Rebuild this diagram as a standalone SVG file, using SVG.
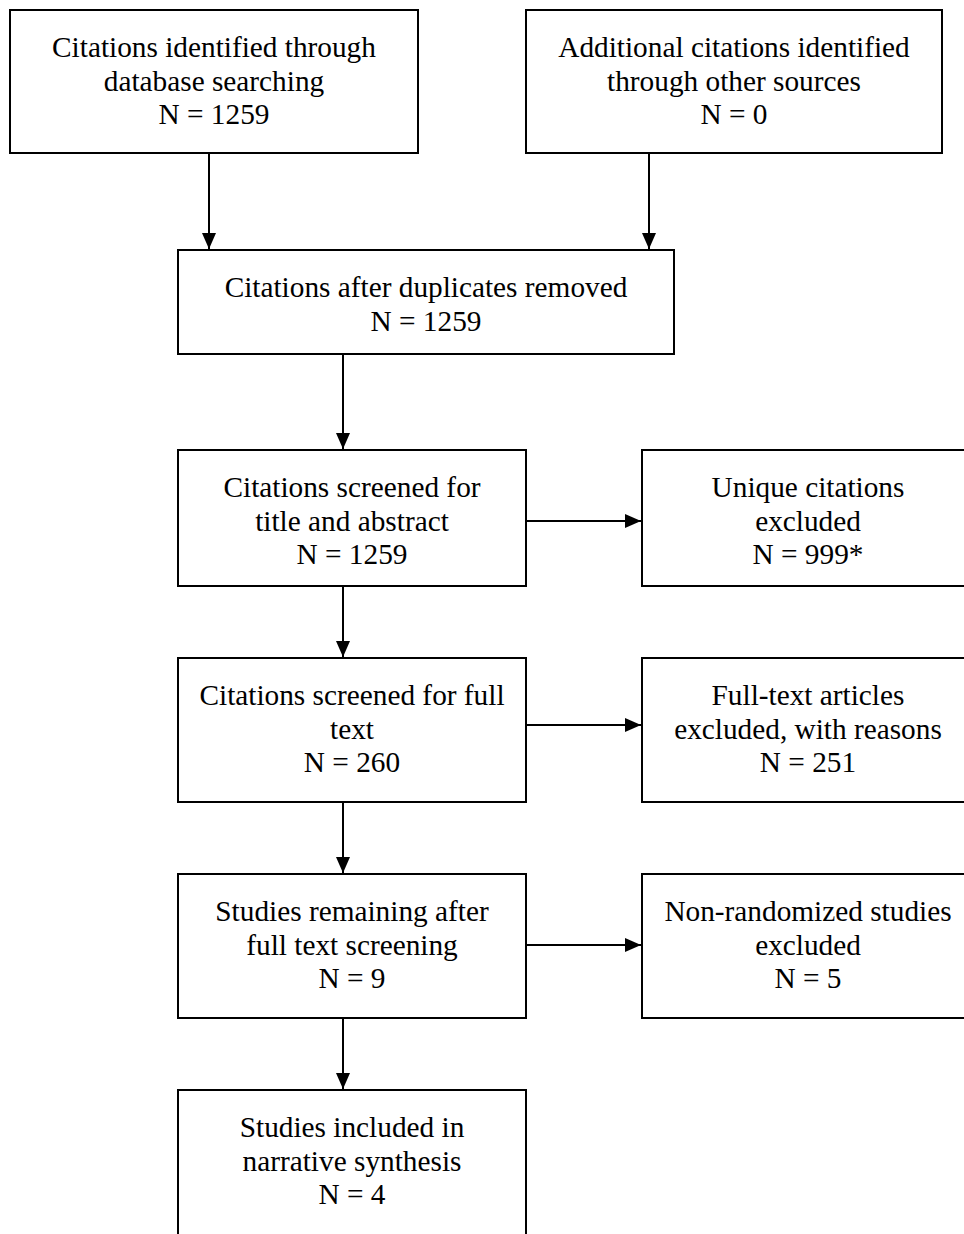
<svg xmlns="http://www.w3.org/2000/svg" width="964" height="1234" viewBox="0 0 964 1234">
<style>
.box{fill:#fff;stroke:#000;stroke-width:2}
.t{font-family:"Liberation Serif","Times New Roman",serif;font-size:29.3px;fill:#000;text-anchor:middle}
.c{stroke:#000;stroke-width:2;fill:none;marker-end:url(#ah)}
</style>
<defs>
<marker id="ah" viewBox="0 0 16 14" refX="16" refY="7" markerWidth="16" markerHeight="14" markerUnits="userSpaceOnUse" orient="auto">
<path d="M0,0 L16,7 L0,14 Z" fill="#000"/>
</marker>
</defs>
<g id="connectors">
<line class="c" x1="209" y1="154" x2="209" y2="249"/>
<line class="c" x1="649" y1="154" x2="649" y2="249"/>
<line class="c" x1="343" y1="355" x2="343" y2="449"/>
<line class="c" x1="343" y1="587" x2="343" y2="657"/>
<line class="c" x1="343" y1="803" x2="343" y2="873"/>
<line class="c" x1="343" y1="1019" x2="343" y2="1089"/>
<line class="c" x1="527" y1="521" x2="641" y2="521"/>
<line class="c" x1="527" y1="725" x2="641" y2="725"/>
<line class="c" x1="527" y1="945" x2="641" y2="945"/>
</g>
<g id="n1">
<rect class="box" x="10" y="10" width="408" height="143"/>
<text class="t" x="214" y="57">Citations identified through</text>
<text class="t" x="214" y="90.5">database searching</text>
<text class="t" x="214" y="124">N = 1259</text>
</g>
<g id="n2">
<rect class="box" x="526" y="10" width="416" height="143"/>
<text class="t" x="734" y="57">Additional citations identified</text>
<text class="t" x="734" y="90.5">through other sources</text>
<text class="t" x="734" y="124">N = 0</text>
</g>
<g id="n3">
<rect class="box" x="178" y="250" width="496" height="104"/>
<text class="t" x="426" y="297">Citations after duplicates removed</text>
<text class="t" x="426" y="330.5">N = 1259</text>
</g>
<g id="n4">
<rect class="box" x="178" y="450" width="348" height="136"/>
<text class="t" x="352" y="497">Citations screened for</text>
<text class="t" x="352" y="530.5">title and abstract</text>
<text class="t" x="352" y="564">N = 1259</text>
</g>
<g id="n5">
<rect class="box" x="642" y="450" width="332" height="136"/>
<text class="t" x="808" y="497">Unique citations</text>
<text class="t" x="808" y="530.5">excluded</text>
<text class="t" x="808" y="564">N = 999*</text>
</g>
<g id="n6">
<rect class="box" x="178" y="658" width="348" height="144"/>
<text class="t" x="352" y="705">Citations screened for full</text>
<text class="t" x="352" y="738.5">text</text>
<text class="t" x="352" y="772">N = 260</text>
</g>
<g id="n7">
<rect class="box" x="642" y="658" width="332" height="144"/>
<text class="t" x="808" y="705">Full-text articles</text>
<text class="t" x="808" y="738.5">excluded, with reasons</text>
<text class="t" x="808" y="772">N = 251</text>
</g>
<g id="n8">
<rect class="box" x="178" y="874" width="348" height="144"/>
<text class="t" x="352" y="921">Studies remaining after</text>
<text class="t" x="352" y="954.5">full text screening</text>
<text class="t" x="352" y="988">N = 9</text>
</g>
<g id="n9">
<rect class="box" x="642" y="874" width="332" height="144"/>
<text class="t" x="808" y="921">Non-randomized studies</text>
<text class="t" x="808" y="954.5">excluded</text>
<text class="t" x="808" y="988">N = 5</text>
</g>
<g id="n10">
<rect class="box" x="178" y="1090" width="348" height="160"/>
<text class="t" x="352" y="1137">Studies included in</text>
<text class="t" x="352" y="1170.5">narrative synthesis</text>
<text class="t" x="352" y="1204">N = 4</text>
</g>
</svg>
